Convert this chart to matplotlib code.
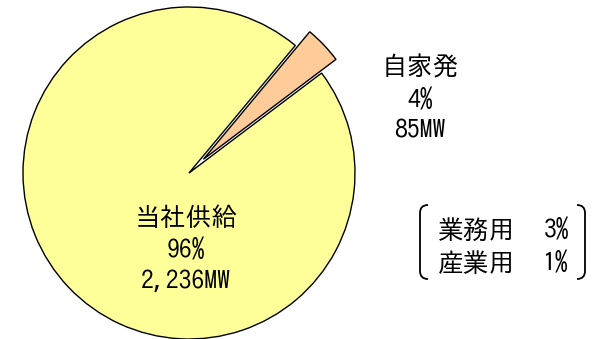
import matplotlib
matplotlib.use("Agg")
import matplotlib.pyplot as plt
from matplotlib.path import Path
from matplotlib.patches import PathPatch

# Data
categories = ["自家発", "当社供給"]
values_mw = [85, 2236]
percent_labels = ["4%", "96%"]
mw_labels = ["85MW", "2,236MW"]
sub_categories = ["業務用", "産業用"]
sub_percents = ["3%", "1%"]
colors = ["#FFCC99", "#FFFF99"]

plt.rcParams['font.family'] = ['IPAGothic', 'Noto Sans CJK JP', 'DejaVu Sans']

W, H = 601, 339
fig = plt.figure(figsize=(W / 100, H / 100), dpi=100)
ax = fig.add_axes([0, 0, 1, 1])

cx, cy, R = 189, 173, 166  # pixel geometry of pie
ax.pie(values_mw, colors=colors, startangle=37, counterclock=True,
       explode=[0.12, 0], radius=1,
       wedgeprops=dict(edgecolor="black", linewidth=1.0))
ax.set_xlim(-cx / R, (W - cx) / R)
ax.set_ylim(-(H - cy) / R, cy / R)
ax.set_aspect('equal')
ax.axis('off')

def px(x, y):
    return (x - cx) / R, (cy - y) / R

fs = 18.5
ls = 1.45
# Main slice label
x, y = px(186, 248)
ax.text(x, y, f"{categories[1]}\n{percent_labels[1]}\n{mw_labels[1]}",
        ha='center', va='center', fontsize=fs, linespacing=ls)
# Small slice label
x, y = px(420, 97)
ax.text(x, y, f"{categories[0]}\n{percent_labels[0]}\n{mw_labels[0]}",
        ha='center', va='center', fontsize=fs, linespacing=ls)

# Breakdown in brackets
for i, (c, p) in enumerate(zip(sub_categories, sub_percents)):
    ypx = 229 + i * 33
    x1, y1 = px(438, ypx)
    ax.text(x1, y1, c, ha='left', va='center', fontsize=fs)
    x2, y2 = px(569, ypx)
    ax.text(x2, y2, p, ha='right', va='center', fontsize=fs)

def bracket(xp, sign):
    top, bot = 205, 279
    r = 8
    pts = [(xp + sign * r, top), (xp, top), (xp, top + r), (xp, bot - r),
           (xp, bot), (xp + sign * r, bot)]
    verts = [px(*p) for p in pts]
    codes = [Path.MOVETO, Path.CURVE3, Path.CURVE3, Path.LINETO, Path.CURVE3, Path.CURVE3]
    ax.add_patch(PathPatch(Path(verts, codes), fill=False, lw=1.3, edgecolor='black'))

bracket(420, 1)
bracket(585, -1)

fig.savefig("out.png", dpi=100)
